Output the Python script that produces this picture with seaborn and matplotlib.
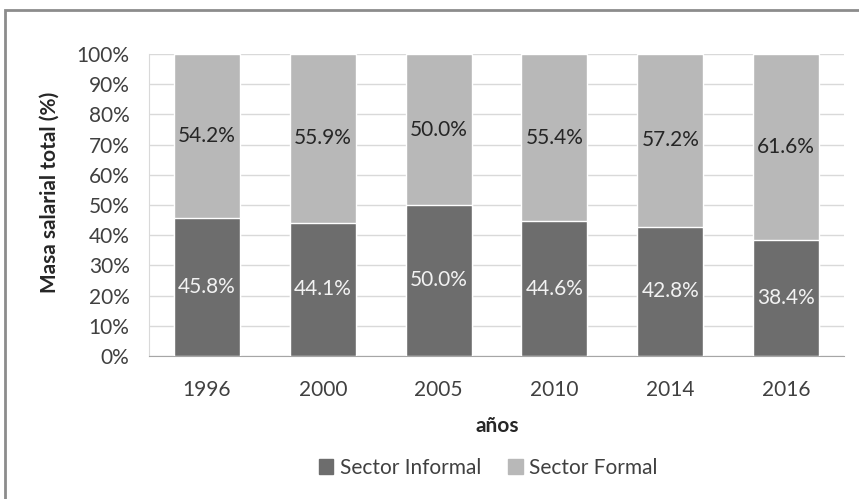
import pandas as pd
import seaborn as sns
import matplotlib.pyplot as plt
from matplotlib.patches import Patch, Rectangle

years = ["1996", "2000", "2005", "2010", "2014", "2016"]
informal = [45.8, 44.1, 50.0, 44.6, 42.8, 38.4]
formal = [54.2, 55.9, 50.0, 55.4, 57.2, 61.6]
series_names = ["Sector Informal", "Sector Formal"]

dark = "#6d6d6d"
light = "#b8b8b8"

sns.set_style("white")
plt.rcParams["font.family"] = ["Lato", "DejaVu Sans"]

data = pd.DataFrame({"year": years, "informal": informal, "formal": formal})
data["total"] = data["informal"] + data["formal"]

W, H = 859, 499
fig = plt.figure(figsize=(W / 100, H / 100), dpi=100)
ax = fig.add_axes([149 / W, 1 - 356 / H, 695 / W, 302 / H])

# stacked: full bar in light, informal part drawn over it in dark
sns.barplot(data=data, x="year", y="total", color=light, saturation=1,
            width=0.57, errorbar=None, ax=ax, zorder=2)
sns.barplot(data=data, x="year", y="informal", color=dark, saturation=1,
            width=0.57, errorbar=None, ax=ax, zorder=3)

for i, row in data.iterrows():
    ax.text(i, row["informal"] / 2, f"{row['informal']:.1f}%", ha="center",
            va="center", color="#f2f2f2", fontsize=15, zorder=4)
    ax.text(i, row["informal"] + row["formal"] / 2, f"{row['formal']:.1f}%",
            ha="center", va="center", color="#262626", fontsize=15, zorder=4)

ax.set_ylim(0, 100)
ax.set_yticks(range(0, 101, 10))
ax.set_yticklabels([f"{t}%" for t in range(0, 101, 10)])
ax.yaxis.grid(True, color="#d9d9d9", lw=1)
ax.set_axisbelow(True)
ax.tick_params(axis="both", length=0, labelsize=15, colors="#404040")
ax.tick_params(axis="x", pad=17)
ax.tick_params(axis="y", pad=14)

for s in ["top", "right"]:
    ax.spines[s].set_visible(False)
ax.spines["left"].set_color("#d9d9d9")
ax.spines["bottom"].set_color("#a6a6a6")

ax.set_xlabel("")
ax.set_ylabel("")
fig.text(497 / W, 1 - 426 / H, "años", ha="center", va="center",
         fontsize=15, fontweight="bold", color="#262626")
fig.text(50 / W, 1 - 192 / H, "Masa salarial total (%)", ha="center",
         va="center", rotation=90, fontsize=15, fontweight="bold",
         color="#262626")

handles = [Patch(color=dark), Patch(color=light)]
fig.legend(handles, series_names, loc="center",
           bbox_to_anchor=(488 / W, 1 - 468 / H), ncol=2, frameon=False,
           handlelength=0.7, handleheight=0.7, handletextpad=0.3,
           columnspacing=1.3, fontsize=15, labelcolor="#404040")

# chart area border (cropped at right and bottom)
fig.patches.append(Rectangle((5 / W, -0.1), 1.2, 1 - 10 / H + 0.1,
                             transform=fig.transFigure, fill=False,
                             edgecolor="#8c8c8c", lw=2))

plt.savefig("out.png", dpi=100)
